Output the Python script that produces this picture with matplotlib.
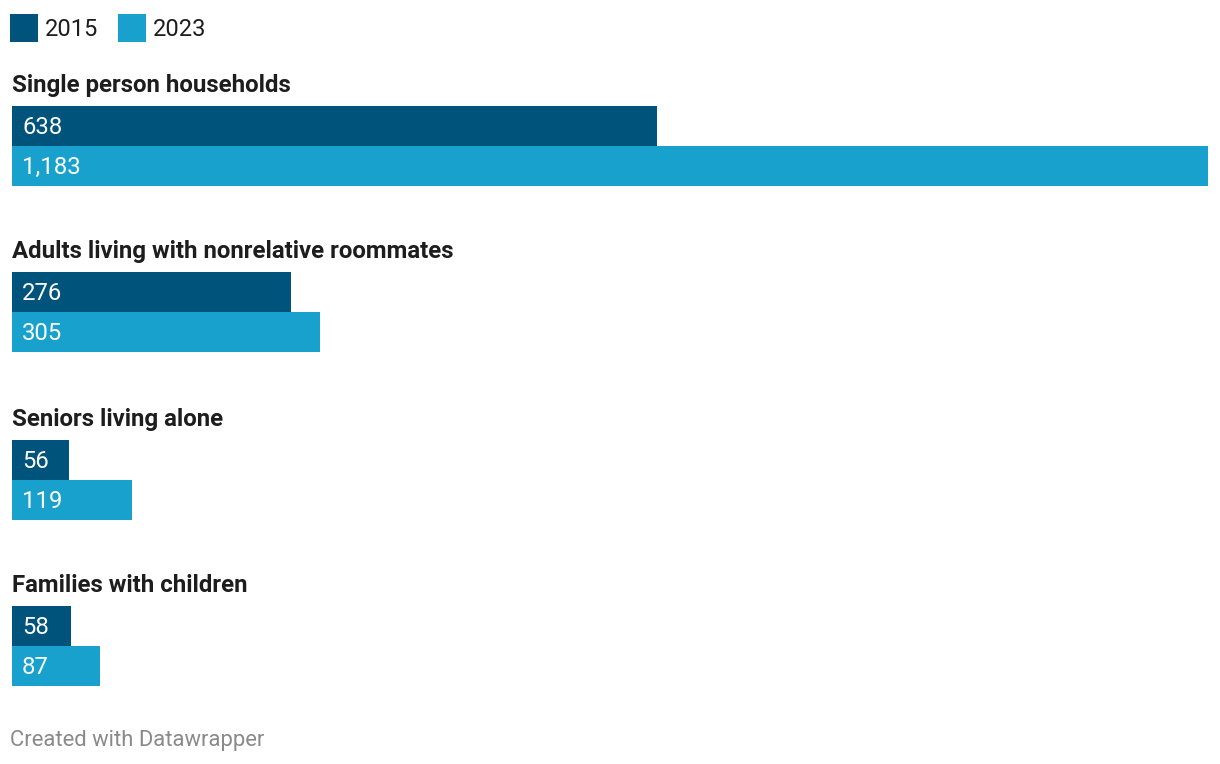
import matplotlib
matplotlib.use("Agg")
from matplotlib import pyplot as plt
from matplotlib.patches import Rectangle

categories = ["Single person households",
              "Adults living with nonrelative roommates",
              "Seniors living alone",
              "Families with children"]
years = ["2015", "2023"]
vals_2015 = [638, 276, 56, 58]
vals_2023 = [1183, 305, 119, 87]

colors = ["#00537a", "#18a1cd"]
text_col = "#1d1d1d"
plt.rcParams["font.family"] = ["Roboto", "DejaVu Sans"]

W, H = 1220, 764
fig = plt.figure(figsize=(W / 100, H / 100), dpi=100)

# axes in pixel-like y units, x in data units
ax = fig.add_axes([12 / W, 0, (1208 - 12) / W, 1])
ax.set_xlim(0, max(vals_2023))
ax.set_ylim(H, 0)
ax.axis("off")

group_tops = [106, 272, 440, 606]
bar_h = 40
for i, cat in enumerate(categories):
    top = group_tops[i]
    ax.text(0, top - 14, cat, fontsize=17.25, fontweight="bold",
            color=text_col, va="baseline", ha="left")
    for j, v in enumerate([vals_2015[i], vals_2023[i]]):
        y = top + j * bar_h
        ax.barh(y, v, height=bar_h, align="edge", color=colors[j],
                linewidth=0)
        ax.annotate(f"{v:,}", xy=(0, y + 28), xycoords="data",
                    xytext=(10, 0), textcoords="offset pixels",
                    fontsize=17.2, color="white", va="baseline",
                    ha="left")

# legend
lx = 10
for j, yr in enumerate(years):
    fig.patches.append(Rectangle((lx / W, 1 - 42 / H), 28 / W, 28 / H,
                                 transform=fig.transFigure,
                                 facecolor=colors[j], linewidth=0))
    fig.text((lx + 35) / W, 1 - 36 / H, yr, fontsize=17,
             color=text_col, va="baseline", ha="left")
    lx += 108

fig.text(10 / W, 1 - 746 / H, "Created with Datawrapper", fontsize=15.85,
         color="#8a8a8a", va="baseline", ha="left")

fig.savefig("out.png", dpi=100, facecolor="white")
